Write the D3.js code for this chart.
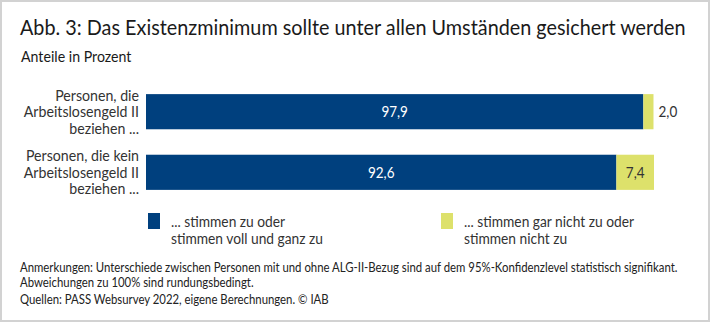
<!DOCTYPE html>
<html lang="de">
<head>
<meta charset="utf-8">
<title>Abb. 3</title>
<script src="https://cdn.jsdelivr.net/npm/d3@7"></script>
<style>
  body { margin: 0; background: #fff; }
  svg { display: block; font-family: Lato, "Open Sans", sans-serif; }
</style>
</head>
<body>
<svg id="chart" width="711" height="325"></svg>
<script>
// Daten
var categories = [
  ["Personen, die", "Arbeitslosengeld II", "beziehen ..."],
  ["Personen, die kein", "Arbeitslosengeld II", "beziehen ..."]
];
var seriesNames = [
  ["... stimmen zu oder", "stimmen voll und ganz zu"],
  ["... stimmen gar nicht zu oder", "stimmen nicht zu"]
];
var zustimmung = [97.9, 92.6];
var ablehnung = [2.0, 7.4];
var colors = ["#00407e", "#dde16b"];

var svg = d3.select("#chart");
var fmt = function(v){ return d3.format(".1f")(v).replace(".", ","); };

// schmale Schrift nachbilden: horizontal gestauchte Gruppe
var titleText = "Abb. 3: Das Existenzminimum sollte unter allen Umständen gesichert werden";
var probe = svg.append("text").attr("font-size", 22).text(titleText);
var squeezeFactor = 666 / probe.node().getComputedTextLength();
probe.remove();

function narrow(parent, x, y, extra){
  return parent.append("g")
    .attr("transform", "translate(" + x + "," + y + ") scale(" + (squeezeFactor * (extra || 1)) + ",1)");
}

// Rahmen
svg.append("rect")
  .attr("x", 1).attr("y", 1).attr("width", 708).attr("height", 320)
  .attr("fill", "none").attr("stroke", "#d2d2d2").attr("stroke-width", 2);

narrow(svg, 20, 35).append("text")
  .attr("font-size", 22).attr("fill", "#1a1a1a")
  .text(titleText);

narrow(svg, 21, 62, 1.05).append("text")
  .attr("font-size", 15).attr("fill", "#1a1a1a")
  .text("Anteile in Prozent");

var x = d3.scaleLinear().domain([0, 100]).range([146, 654]);
var y = d3.scaleBand().domain([0, 1]).range([82, 202]).paddingInner(0.42).paddingOuter(0.2);

var stacked = categories.map(function(c, i){
  return { i: i, parts: [
    { k: 0, i: i, x0: 0, x1: zustimmung[i], v: zustimmung[i] },
    { k: 1, i: i, x0: zustimmung[i], x1: zustimmung[i] + ablehnung[i], v: ablehnung[i] }
  ]};
});

var rows = svg.selectAll(".row").data(stacked).enter().append("g").attr("class", "row");

rows.selectAll("rect").data(function(d){ return d.parts; })
  .enter().append("rect")
  .attr("x", function(p){ return x(p.x0); })
  .attr("width", function(p){ return x(p.x1) - x(p.x0); })
  .attr("y", function(p){ return y(p.i); })
  .attr("height", y.bandwidth())
  .attr("fill", function(p){ return colors[p.k]; });

// Werte
rows.each(function(d){
  var row = d3.select(this);
  d.parts.forEach(function(p){
    var w = x(p.x1) - x(p.x0);
    var inside = w >= 25;
    narrow(row, inside ? (x(p.x0) + x(p.x1)) / 2 : x(p.x1) + 5, y(p.i) + y.bandwidth() / 2)
      .append("text")
      .attr("font-size", 15)
      .attr("dominant-baseline", "central")
      .attr("text-anchor", inside ? "middle" : "start")
      .attr("fill", p.k === 0 ? "#fff" : "#333")
      .text(fmt(p.v));
  });
});

// Kategorien
rows.each(function(d){
  var cy = y(d.i) + y.bandwidth() / 2;
  var t = narrow(d3.select(this), 139, cy, 1.05).append("text")
    .attr("text-anchor", "end")
    .attr("font-size", 15)
    .attr("fill", "#333");
  categories[d.i].forEach(function(line, j){
    t.append("tspan").attr("x", 0).attr("y", (j - 1) * 16.5)
      .attr("dominant-baseline", "central").text(line);
  });
});

// Legende
var legendX = [148, 441];
seriesNames.forEach(function(names, i){
  var lg = svg.append("g").attr("class", "legend");
  lg.append("rect")
    .attr("x", legendX[i]).attr("y", 213)
    .attr("width", 12).attr("height", 16)
    .attr("fill", colors[i]);
  var t = narrow(lg, legendX[i] + 23, 221, 1.02).append("text")
    .attr("font-size", 15).attr("fill", "#333");
  names.forEach(function(line, j){
    t.append("tspan").attr("x", 0).attr("y", j * 17)
      .attr("dominant-baseline", "central").text(line);
  });
});

// Anmerkungen
var notes = [
  "Anmerkungen: Unterschiede zwischen Personen mit und ohne ALG-II-Bezug sind auf dem 95%-Konfidenzlevel statistisch signifikant.",
  "Abweichungen zu 100% sind rundungsbedingt.",
  "Quellen: PASS Websurvey 2022, eigene Berechnungen. © IAB"
];
var notesY = [267, 282.5, 299];
notes.forEach(function(n, i){
  narrow(svg, 20, notesY[i], 1.01).append("text")
    .attr("class", "note")
    .attr("dominant-baseline", "central")
    .attr("font-size", 12.5).attr("fill", "#222")
    .text(n);
});
</script>
</body>
</html>
